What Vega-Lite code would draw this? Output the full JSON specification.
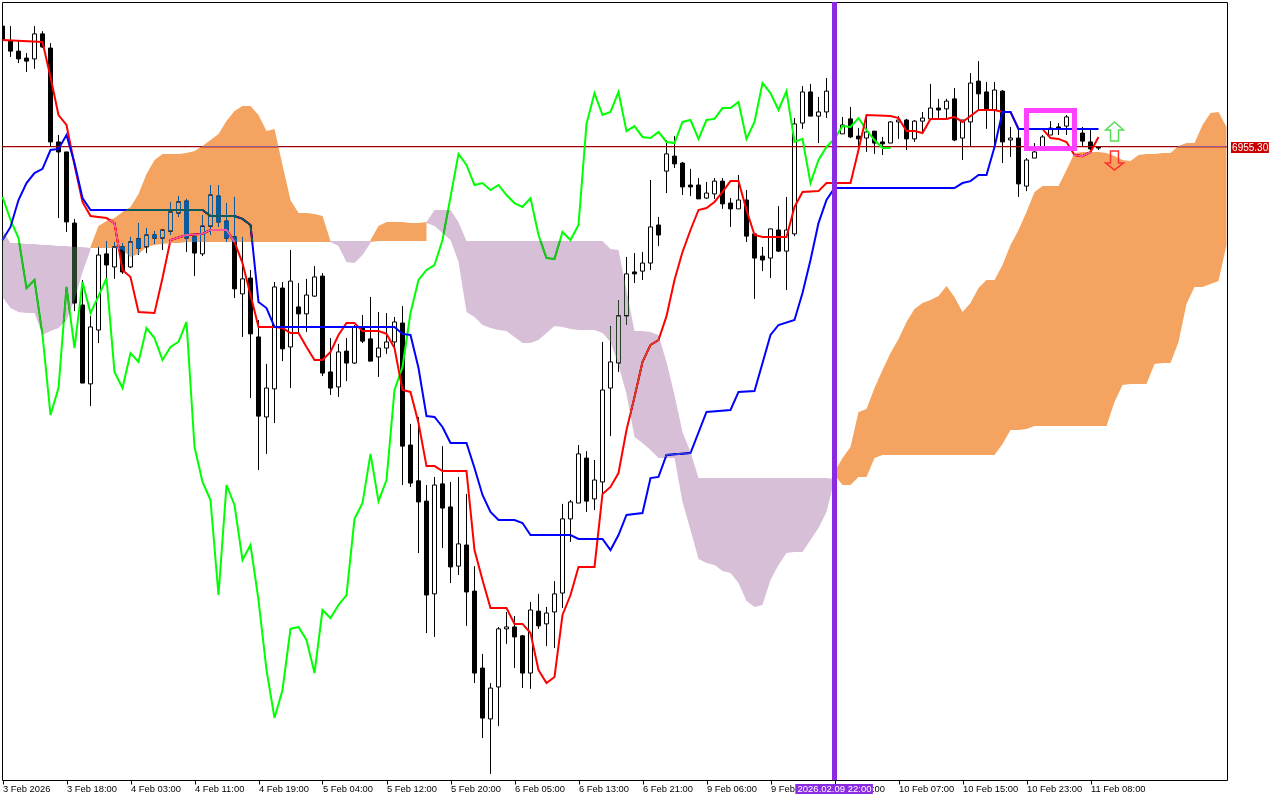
{
"$schema":"https://vega.github.io/schema/vega-lite/v6.json",
"width":1225,"height":778,
"autosize":"none",
"padding":{"left":2,"top":2,"right":53,"bottom":20},
"background":"white",
"config":{"view":{"stroke":"black"},"axis":{"title":null,"grid":false,"domain":false,"tickColor":"black","labelColor":"black","labelFont":"Liberation Sans","labelFontSize":10,"tickSize":4}},
"datasets":{
"candles":[
{"i":0,"h":6998.7,"l":6993.0,"o":6998.7,"c":6993.7},{"i":1,"h":6998.7,"l":6987.6,"o":6993.3,"c":6989.7},{"i":2,"h":6993.7,"l":6985.4,"o":6989.7,"c":6986.9},{"i":3,"h":6989.0,"l":6982.2,"o":6987.2,"c":6986.1},{"i":4,"h":6998.7,"l":6983.3,"o":6986.9,"c":6995.9},{"i":5,"h":6996.9,"l":6990.8,"o":6995.9,"c":6991.2},{"i":6,"h":6992.6,"l":6955.5,"o":6990.8,"c":6957.0},{"i":7,"h":6959.5,"l":6929.6,"o":6957.0,"c":6953.4},{"i":8,"h":6953.4,"l":6924.6,"o":6953.4,"c":6928.2},{"i":9,"h":6929.3,"l":6896.1,"o":6927.8,"c":6899.0},
{"i":10,"h":6907.3,"l":6870.2,"o":6898.3,"c":6870.2},{"i":11,"h":6894.3,"l":6861.9,"o":6869.9,"c":6890.4},{"i":12,"h":6919.2,"l":6884.6,"o":6889.3,"c":6916.3},{"i":13,"h":6921.3,"l":6908.0,"o":6916.7,"c":6912.7},{"i":14,"h":6921.0,"l":6907.7,"o":6912.0,"c":6919.2},{"i":15,"h":6920.6,"l":6909.5,"o":6919.2,"c":6910.2},{"i":16,"h":6922.8,"l":6911.6,"o":6912.0,"c":6921.0},{"i":17,"h":6927.8,"l":6916.3,"o":6922.1,"c":6918.8},{"i":18,"h":6926.0,"l":6917.0,"o":6919.2,"c":6923.5},{"i":19,"h":6924.9,"l":6920.3,"o":6923.5,"c":6922.4},
{"i":20,"h":6925.3,"l":6918.1,"o":6922.4,"c":6925.3},{"i":21,"h":6935.4,"l":6923.5,"o":6924.9,"c":6931.8},{"i":22,"h":6937.5,"l":6930.0,"o":6931.4,"c":6935.4},{"i":23,"h":6936.5,"l":6917.4,"o":6935.7,"c":6922.4},{"i":24,"h":6924.2,"l":6908.7,"o":6922.8,"c":6917.0},{"i":25,"h":6930.7,"l":6915.9,"o":6916.7,"c":6926.7},{"i":26,"h":6941.5,"l":6923.5,"o":6926.7,"c":6937.9},{"i":27,"h":6941.5,"l":6926.4,"o":6937.5,"c":6928.2},{"i":28,"h":6935.0,"l":6921.0,"o":6928.5,"c":6922.4},{"i":29,"h":6937.2,"l":6900.8,"o":6922.8,"c":6904.1},
{"i":30,"h":6922.8,"l":6886.8,"o":6902.3,"c":6907.7},{"i":31,"h":6910.9,"l":6864.8,"o":6908.0,"c":6887.9},{"i":32,"h":6892.9,"l":6838.9,"o":6886.8,"c":6858.3},{"i":33,"h":6877.1,"l":6844.7,"o":6858.0,"c":6868.4},{"i":34,"h":6906.6,"l":6855.8,"o":6868.1,"c":6904.8},{"i":35,"h":6906.6,"l":6878.1,"o":6904.4,"c":6882.5},{"i":36,"h":6918.1,"l":6868.4,"o":6883.2,"c":6906.9},{"i":37,"h":6906.2,"l":6888.2,"o":6897.6,"c":6895.1},{"i":38,"h":6907.7,"l":6888.6,"o":6895.1,"c":6901.9},{"i":39,"h":6912.3,"l":6901.2,"o":6901.5,"c":6908.4},
{"i":40,"h":6909.8,"l":6872.7,"o":6908.7,"c":6873.8},{"i":41,"h":6886.4,"l":6865.9,"o":6874.2,"c":6868.4},{"i":42,"h":6884.3,"l":6865.2,"o":6868.8,"c":6881.4},{"i":43,"h":6886.4,"l":6870.9,"o":6881.7,"c":6877.4},{"i":44,"h":6891.1,"l":6877.1,"o":6877.4,"c":6890.4},{"i":45,"h":6894.7,"l":6884.6,"o":6890.0,"c":6885.3},{"i":46,"h":6901.2,"l":6878.1,"o":6886.1,"c":6878.1},{"i":47,"h":6895.8,"l":6872.4,"o":6879.6,"c":6882.8},{"i":48,"h":6895.4,"l":6880.7,"o":6882.8,"c":6885.0},{"i":49,"h":6894.0,"l":6882.8,"o":6885.0,"c":6892.2},
{"i":50,"h":6897.9,"l":6833.5,"o":6891.8,"c":6847.5},{"i":51,"h":6855.5,"l":6832.8,"o":6847.9,"c":6834.2},{"i":52,"h":6858.0,"l":6809.0,"o":6835.0,"c":6827.4},{"i":53,"h":6833.5,"l":6780.2,"o":6827.7,"c":6793.9},{"i":54,"h":6836.4,"l":6778.8,"o":6794.3,"c":6833.5},{"i":55,"h":6847.5,"l":6810.8,"o":6833.9,"c":6825.2},{"i":56,"h":6834.6,"l":6798.2,"o":6825.6,"c":6804.0},{"i":57,"h":6836.4,"l":6801.1,"o":6804.3,"c":6812.3},{"i":58,"h":6830.3,"l":6782.8,"o":6811.9,"c":6795.0},{"i":59,"h":6804.3,"l":6762.2,"o":6795.3,"c":6765.8},
{"i":60,"h":6772.7,"l":6742.4,"o":6767.6,"c":6749.6},{"i":61,"h":6762.2,"l":6729.5,"o":6749.3,"c":6760.4},{"i":62,"h":6782.4,"l":6746.7,"o":6760.8,"c":6781.7},{"i":63,"h":6787.8,"l":6776.3,"o":6781.7,"c":6782.4},{"i":64,"h":6786.3,"l":6767.6,"o":6782.4,"c":6778.8},{"i":65,"h":6779.5,"l":6760.4,"o":6779.2,"c":6765.8},{"i":66,"h":6791.4,"l":6760.1,"o":6765.8,"c":6788.5},{"i":67,"h":6794.3,"l":6781.7,"o":6788.1,"c":6782.8},{"i":68,"h":6789.6,"l":6775.5,"o":6783.5,"c":6787.4},{"i":69,"h":6798.9,"l":6774.8,"o":6787.8,"c":6794.3},
{"i":70,"h":6826.7,"l":6789.2,"o":6794.6,"c":6821.3},{"i":71,"h":6828.1,"l":6813.0,"o":6821.3,"c":6827.4},{"i":72,"h":6847.9,"l":6827.0,"o":6827.0,"c":6844.7},{"i":73,"h":6845.7,"l":6823.8,"o":6843.2,"c":6827.7},{"i":74,"h":6842.5,"l":6824.5,"o":6828.5,"c":6835.3},{"i":75,"h":6885.0,"l":6829.9,"o":6834.6,"c":6867.7},{"i":76,"h":6890.7,"l":6851.1,"o":6868.4,"c":6877.8},{"i":77,"h":6900.1,"l":6874.2,"o":6877.4,"c":6894.4},{"i":78,"h":6915.6,"l":6891.1,"o":6894.4,"c":6909.5},{"i":79,"h":6917.0,"l":6906.2,"o":6910.2,"c":6909.5},
{"i":80,"h":6917.4,"l":6907.3,"o":6910.5,"c":6913.4},{"i":81,"h":6943.3,"l":6910.9,"o":6913.4,"c":6926.4},{"i":82,"h":6930.0,"l":6919.5,"o":6927.1,"c":6923.5},{"i":83,"h":6957.7,"l":6938.6,"o":6946.5,"c":6952.7},{"i":84,"h":6959.1,"l":6947.6,"o":6951.9,"c":6949.1},{"i":85,"h":6949.8,"l":6937.9,"o":6949.4,"c":6940.8},{"i":86,"h":6947.3,"l":6937.5,"o":6941.5,"c":6940.8},{"i":87,"h":6944.0,"l":6936.5,"o":6941.5,"c":6936.5},{"i":88,"h":6942.6,"l":6936.5,"o":6936.8,"c":6938.6},{"i":89,"h":6944.0,"l":6936.5,"o":6938.3,"c":6942.9},
{"i":90,"h":6944.0,"l":6932.9,"o":6942.9,"c":6934.7},{"i":91,"h":6936.8,"l":6926.4,"o":6935.0,"c":6932.9},{"i":92,"h":6945.1,"l":6932.9,"o":6932.9,"c":6936.1},{"i":93,"h":6939.7,"l":6921.0,"o":6936.1,"c":6923.1},{"i":94,"h":6924.2,"l":6900.5,"o":6923.9,"c":6915.2},{"i":95,"h":6919.2,"l":6910.5,"o":6915.9,"c":6914.5},{"i":96,"h":6925.7,"l":6908.0,"o":6915.2,"c":6925.7},{"i":97,"h":6933.9,"l":6917.4,"o":6925.3,"c":6917.7},{"i":98,"h":6937.2,"l":6903.7,"o":6917.7,"c":6925.3},{"i":99,"h":6965.6,"l":6923.1,"o":6923.9,"c":6963.5},
{"i":100,"h":6977.1,"l":6961.7,"o":6963.8,"c":6975.0},{"i":101,"h":6977.9,"l":6966.3,"o":6975.0,"c":6966.3},{"i":102,"h":6973.2,"l":6956.6,"o":6966.3,"c":6967.8},{"i":103,"h":6980.0,"l":6965.6,"o":6967.8,"c":6975.3},{"i":104,"h":6976.4,"l":6964.2,"o":6975.3,"c":6965.6},{"i":105,"h":6966.0,"l":6959.9,"o":6959.9,"c":6963.1},{"i":106,"h":6969.6,"l":6958.4,"o":6965.3,"c":6958.8},{"i":107,"h":6962.0,"l":6954.1,"o":6959.1,"c":6958.1},{"i":108,"h":6966.0,"l":6953.4,"o":6958.4,"c":6960.6},{"i":109,"h":6960.9,"l":6952.7,"o":6960.9,"c":6956.6},
{"i":110,"h":6958.8,"l":6952.3,"o":6957.0,"c":6956.3},{"i":111,"h":6964.5,"l":6956.6,"o":6956.6,"c":6964.2},{"i":112,"h":6966.3,"l":6958.1,"o":6964.2,"c":6964.9},{"i":113,"h":6965.3,"l":6954.1,"o":6964.9,"c":6958.1},{"i":114,"h":6964.9,"l":6957.0,"o":6958.1,"c":6964.5},{"i":115,"h":6967.8,"l":6960.2,"o":6964.5,"c":6965.6},{"i":116,"h":6977.9,"l":6965.3,"o":6965.3,"c":6969.2},{"i":117,"h":6972.5,"l":6965.3,"o":6969.2,"c":6968.5},{"i":118,"h":6972.5,"l":6964.9,"o":6968.9,"c":6971.7},{"i":119,"h":6976.4,"l":6957.3,"o":6972.5,"c":6957.7},
{"i":120,"h":6964.9,"l":6950.5,"o":6958.4,"c":6964.9},{"i":121,"h":6981.8,"l":6955.2,"o":6964.2,"c":6978.2},{"i":122,"h":6986.1,"l":6968.5,"o":6978.9,"c":6974.3},{"i":123,"h":6978.6,"l":6961.7,"o":6975.0,"c":6968.9},{"i":124,"h":6978.6,"l":6955.2,"o":6968.5,"c":6975.7},{"i":125,"h":6975.7,"l":6949.4,"o":6975.3,"c":6957.0},{"i":126,"h":6962.4,"l":6951.6,"o":6957.7,"c":6958.4},{"i":127,"h":6961.3,"l":6937.2,"o":6958.4,"c":6941.9},{"i":128,"h":6951.2,"l":6939.3,"o":6941.1,"c":6950.5},{"i":129,"h":6956.6,"l":6951.2,"o":6951.2,"c":6953.4},
{"i":130,"h":6959.5,"l":6955.2,"o":6955.2,"c":6958.8},{"i":131,"h":6964.5,"l":6959.5,"o":6959.5,"c":6962.0},{"i":132,"h":6963.8,"l":6959.5,"o":6962.4,"c":6961.7},{"i":133,"h":6966.7,"l":6959.5,"o":6962.7,"c":6966.0},{"i":134,"h":6964.9,"l":6961.3,"o":6962.4,"c":6963.1},{"i":135,"h":6962.4,"l":6955.2,"o":6960.2,"c":6957.3},{"i":136,"h":6962.0,"l":6954.1,"o":6957.0,"c":6954.5},{"i":137,"h":6955.5,"l":6954.1,"o":6955.2,"c":6954.8}
],
"chikou":[
{"i":0,"p":6937.2},{"i":1,"p":6928.9},{"i":2,"p":6922.4},{"i":3,"p":6904.4},{"i":4,"p":6907.3},{"i":5,"p":6887.5},{"i":6,"p":6858.7},{"i":7,"p":6868.4},{"i":8,"p":6904.8},{"i":9,"p":6882.8},{"i":10,"p":6906.6},{"i":11,"p":6895.4},{"i":12,"p":6901.5},{"i":13,"p":6908.0},{"i":14,"p":6874.2},{"i":15,"p":6868.4},{"i":16,"p":6881.0},{"i":17,"p":6877.8},{"i":18,"p":6890.0},{"i":19,"p":6886.4},{"i":20,"p":6878.5},{"i":21,"p":6883.2},{"i":22,"p":6885.0},{"i":23,"p":6892.2},{"i":24,"p":6847.2},{"i":25,"p":6834.6},{"i":26,"p":6828.1},{"i":27,"p":6793.9},{"i":28,"p":6833.5},{"i":29,"p":6826.3},{"i":30,"p":6806.5},{"i":31,"p":6811.9},{"i":32,"p":6792.1},{"i":33,"p":6766.9},{"i":34,"p":6749.6},{"i":35,"p":6759.7},{"i":36,"p":6781.7},{"i":37,"p":6782.4},{"i":38,"p":6777.7},{"i":39,"p":6765.8},{"i":40,"p":6788.5},{"i":41,"p":6785.6},{"i":42,"p":6790.3},{"i":43,"p":6793.9},{"i":44,"p":6821.3},{"i":45,"p":6827.0},{"i":46,"p":6844.7},{"i":47,"p":6827.7},{"i":48,"p":6835.3},{"i":49,"p":6867.7},{"i":50,"p":6876.0},{"i":51,"p":6895.4},{"i":52,"p":6907.3},{"i":53,"p":6910.9},{"i":54,"p":6912.7},{"i":55,"p":6921.7},{"i":56,"p":6937.2},{"i":57,"p":6952.7},{"i":58,"p":6948.7},{"i":59,"p":6941.5},{"i":60,"p":6942.2},{"i":61,"p":6939.7},{"i":62,"p":6941.5},{"i":63,"p":6937.9},{"i":64,"p":6935.0},{"i":65,"p":6933.6},{"i":66,"p":6936.8},{"i":67,"p":6923.5},{"i":68,"p":6915.2},{"i":69,"p":6914.9},{"i":70,"p":6924.6},{"i":71,"p":6921.7},{"i":72,"p":6927.1},{"i":73,"p":6963.5},{"i":74,"p":6974.6},{"i":75,"p":6966.7},{"i":76,"p":6967.8},{"i":77,"p":6975.0},{"i":78,"p":6960.9},{"i":79,"p":6962.7},{"i":80,"p":6958.8},{"i":81,"p":6958.4},{"i":82,"p":6960.6},{"i":83,"p":6957.0},{"i":84,"p":6956.6},{"i":85,"p":6964.2},{"i":86,"p":6964.9},{"i":87,"p":6958.1},{"i":88,"p":6964.9},{"i":89,"p":6965.3},{"i":90,"p":6969.2},{"i":91,"p":6969.2},{"i":92,"p":6971.4},{"i":93,"p":6958.1},{"i":94,"p":6964.2},{"i":95,"p":6978.2},{"i":96,"p":6974.6},{"i":97,"p":6968.5},{"i":98,"p":6975.3},{"i":99,"p":6957.0},{"i":100,"p":6958.1},{"i":101,"p":6942.2},{"i":102,"p":6950.5},{"i":103,"p":6955.2},{"i":104,"p":6958.1},{"i":105,"p":6962.7},{"i":106,"p":6962.4},{"i":107,"p":6965.6},{"i":108,"p":6961.3},{"i":109,"p":6957.7},{"i":110,"p":6954.8},{"i":111,"p":6954.8}
],
"tenkan":[
{"i":0,"p":6993.7},{"i":5,"p":6993.0},{"i":6,"p":6980.4},{"i":7,"p":6966.7},{"i":8,"p":6963.1},{"i":9,"p":6948.7},{"i":10,"p":6935.4},{"i":11,"p":6930.3},{"i":13,"p":6929.6},{"i":14,"p":6927.8},{"i":15,"p":6910.9},{"i":16,"p":6908.4},{"i":17,"p":6895.8},{"i":19,"p":6895.4},{"i":20,"p":6908.0},{"i":21,"p":6921.7},{"i":23,"p":6923.5},{"i":25,"p":6923.9},{"i":26,"p":6925.3},{"i":28,"p":6925.3},{"i":29,"p":6921.0},{"i":30,"p":6913.4},{"i":31,"p":6901.9},{"i":32,"p":6890.4},{"i":34,"p":6890.4},{"i":35,"p":6890.0},{"i":36,"p":6888.2},{"i":37,"p":6888.2},{"i":38,"p":6883.2},{"i":39,"p":6878.5},{"i":40,"p":6878.5},{"i":41,"p":6881.4},{"i":42,"p":6887.5},{"i":43,"p":6891.8},{"i":44,"p":6891.8},{"i":45,"p":6888.9},{"i":47,"p":6888.9},{"i":48,"p":6887.9},{"i":49,"p":6882.8},{"i":50,"p":6867.7},{"i":51,"p":6867.0},{"i":52,"p":6855.8},{"i":53,"p":6840.3},{"i":54,"p":6840.3},{"i":55,"p":6838.5},{"i":58,"p":6838.5},{"i":59,"p":6810.1},{"i":60,"p":6799.3},{"i":61,"p":6789.2},{"i":63,"p":6789.2},{"i":64,"p":6783.5},{"i":65,"p":6783.5},{"i":66,"p":6780.2},{"i":67,"p":6766.9},{"i":68,"p":6762.2},{"i":69,"p":6764.4},{"i":70,"p":6786.7},{"i":71,"p":6793.9},{"i":72,"p":6804.0},{"i":74,"p":6804.0},{"i":75,"p":6830.3},{"i":76,"p":6832.8},{"i":77,"p":6837.8},{"i":78,"p":6853.3},{"i":79,"p":6865.2},{"i":80,"p":6877.8},{"i":81,"p":6883.9},{"i":82,"p":6885.7},{"i":83,"p":6894.3},{"i":84,"p":6907.3},{"i":85,"p":6917.4},{"i":86,"p":6925.3},{"i":87,"p":6932.5},{"i":88,"p":6933.2},{"i":89,"p":6935.4},{"i":90,"p":6939.0},{"i":91,"p":6942.9},{"i":92,"p":6942.9},{"i":93,"p":6932.5},{"i":94,"p":6923.5},{"i":95,"p":6922.8},{"i":98,"p":6922.8},{"i":99,"p":6933.6},{"i":100,"p":6939.0},{"i":102,"p":6939.3},{"i":103,"p":6942.2},{"i":106,"p":6942.2},{"i":107,"p":6954.1},{"i":108,"p":6966.7},{"i":111,"p":6966.3},{"i":112,"p":6965.6},{"i":113,"p":6960.9},{"i":114,"p":6960.9},{"i":115,"p":6960.2},{"i":116,"p":6965.3},{"i":118,"p":6965.3},{"i":119,"p":6966.0},{"i":120,"p":6964.2},{"i":122,"p":6968.5},{"i":124,"p":6968.5},{"i":125,"p":6967.8},{"i":126,"p":6967.8},{"i":127,"p":6961.7},{"i":130,"p":6961.7},{"i":131,"p":6958.4},{"i":132,"p":6958.1},{"i":133,"p":6957.0},{"i":134,"p":6952.3},{"i":135,"p":6951.9},{"i":136,"p":6953.4},{"i":137,"p":6958.8}
],
"kijun":[
{"i":0,"p":6921.7},{"i":1,"p":6926.4},{"i":2,"p":6936.1},{"i":3,"p":6942.2},{"i":4,"p":6945.8},{"i":5,"p":6947.3},{"i":6,"p":6954.1},{"i":7,"p":6954.5},{"i":8,"p":6959.5},{"i":9,"p":6949.4},{"i":10,"p":6936.8},{"i":11,"p":6932.5},{"i":25,"p":6932.5},{"i":26,"p":6930.3},{"i":29,"p":6930.3},{"i":30,"p":6929.3},{"i":31,"p":6927.1},{"i":32,"p":6899.4},{"i":33,"p":6897.2},{"i":34,"p":6890.4},{"i":49,"p":6890.4},{"i":50,"p":6887.9},{"i":51,"p":6887.5},{"i":52,"p":6875.6},{"i":53,"p":6858.3},{"i":54,"p":6858.0},{"i":55,"p":6854.4},{"i":56,"p":6848.6},{"i":58,"p":6848.6},{"i":59,"p":6839.6},{"i":60,"p":6829.9},{"i":61,"p":6823.8},{"i":62,"p":6820.9},{"i":64,"p":6820.9},{"i":65,"p":6819.8},{"i":66,"p":6815.5},{"i":71,"p":6815.5},{"i":72,"p":6814.1},{"i":75,"p":6814.1},{"i":76,"p":6810.1},{"i":77,"p":6815.5},{"i":78,"p":6822.7},{"i":80,"p":6823.4},{"i":81,"p":6836.0},{"i":82,"p":6836.4},{"i":83,"p":6844.3},{"i":86,"p":6845.0},{"i":88,"p":6859.8},{"i":91,"p":6860.5},{"i":92,"p":6867.0},{"i":94,"p":6867.3},{"i":96,"p":6887.5},{"i":97,"p":6891.1},{"i":99,"p":6892.9},{"i":100,"p":6902.6},{"i":101,"p":6914.5},{"i":102,"p":6927.8},{"i":103,"p":6936.1},{"i":104,"p":6940.4},{"i":119,"p":6940.4},{"i":120,"p":6942.2},{"i":121,"p":6942.9},{"i":122,"p":6945.1},{"i":123,"p":6945.1},{"i":124,"p":6955.2},{"i":125,"p":6967.8},{"i":126,"p":6967.8},{"i":127,"p":6961.7},{"i":137,"p":6961.7}
],
"kumo":[
{"i":0,"seg":"A","hi":6925.3,"lo":6901.2},{"i":1,"seg":"A","hi":6920.6,"lo":6897.2},{"i":2,"seg":"A","hi":6920.6,"lo":6895.8},{"i":3,"seg":"A","hi":6920.3,"lo":6895.4},{"i":4,"seg":"A","hi":6920.3,"lo":6895.4},{"i":5,"seg":"A","hi":6919.9,"lo":6887.5},{"i":6,"seg":"A","hi":6919.9,"lo":6888.9},{"i":7,"seg":"A","hi":6919.5,"lo":6890.0},{"i":8,"seg":"A","hi":6919.5,"lo":6892.9},{"i":9,"seg":"A","hi":6919.2,"lo":6900.1},{"i":10,"seg":"A","hi":6919.2,"lo":6910.2},{"i":11,"seg":"A","hi":6918.8,"lo":6918.1},
{"i":11,"seg":"B","hi":6919.2,"lo":6918.8},{"i":12,"seg":"B","hi":6926.7,"lo":6918.8},{"i":13,"seg":"B","hi":6928.5,"lo":6918.8},{"i":14,"seg":"B","hi":6929.6,"lo":6918.8},{"i":15,"seg":"B","hi":6931.8,"lo":6918.1},{"i":16,"seg":"B","hi":6933.6,"lo":6915.6},{"i":17,"seg":"B","hi":6938.3,"lo":6916.7},{"i":18,"seg":"B","hi":6945.5,"lo":6919.2},{"i":19,"seg":"B","hi":6950.5,"lo":6919.9},{"i":20,"seg":"B","hi":6952.7,"lo":6920.3},{"i":21,"seg":"B","hi":6952.7,"lo":6920.6},{"i":22,"seg":"B","hi":6952.7,"lo":6920.6},{"i":23,"seg":"B","hi":6953.0,"lo":6921.0},{"i":24,"seg":"B","hi":6953.7,"lo":6921.0},{"i":25,"seg":"B","hi":6955.5,"lo":6921.0},{"i":26,"seg":"B","hi":6957.7,"lo":6921.0},{"i":27,"seg":"B","hi":6959.9,"lo":6921.0},{"i":28,"seg":"B","hi":6964.5,"lo":6921.0},{"i":29,"seg":"B","hi":6968.1,"lo":6921.0},{"i":30,"seg":"B","hi":6969.9,"lo":6921.0},{"i":31,"seg":"B","hi":6969.9,"lo":6921.0},{"i":32,"seg":"B","hi":6966.7,"lo":6921.0},{"i":33,"seg":"B","hi":6960.9,"lo":6921.0},{"i":34,"seg":"B","hi":6961.7,"lo":6921.0},{"i":35,"seg":"B","hi":6948.7,"lo":6921.0},{"i":36,"seg":"B","hi":6936.1,"lo":6921.0},{"i":37,"seg":"B","hi":6931.4,"lo":6921.0},{"i":38,"seg":"B","hi":6931.4,"lo":6921.0},{"i":39,"seg":"B","hi":6931.1,"lo":6921.0},{"i":40,"seg":"B","hi":6930.3,"lo":6921.0},{"i":41,"seg":"B","hi":6921.3,"lo":6921.0},
{"i":41,"seg":"C","hi":6921.3,"lo":6921.0},{"i":42,"seg":"C","hi":6921.3,"lo":6919.5},{"i":43,"seg":"C","hi":6921.3,"lo":6913.8},{"i":44,"seg":"C","hi":6921.3,"lo":6913.4},{"i":45,"seg":"C","hi":6921.3,"lo":6916.3},{"i":46,"seg":"C","hi":6921.3,"lo":6920.6},
{"i":46,"seg":"D","hi":6921.7,"lo":6921.0},{"i":47,"seg":"D","hi":6926.7,"lo":6921.3},{"i":48,"seg":"D","hi":6928.2,"lo":6921.3},{"i":49,"seg":"D","hi":6928.2,"lo":6921.3},{"i":50,"seg":"D","hi":6928.2,"lo":6921.3},{"i":51,"seg":"D","hi":6927.8,"lo":6921.3},{"i":52,"seg":"D","hi":6927.8,"lo":6921.3},{"i":53,"seg":"D","hi":6928.2,"lo":6921.3},
{"i":53,"seg":"E","hi":6928.2,"lo":6927.8},{"i":54,"seg":"E","hi":6932.5,"lo":6926.7},{"i":55,"seg":"E","hi":6932.5,"lo":6924.2},{"i":56,"seg":"E","hi":6932.5,"lo":6921.7},{"i":57,"seg":"E","hi":6928.2,"lo":6913.8},{"i":58,"seg":"E","hi":6921.3,"lo":6895.8},{"i":59,"seg":"E","hi":6921.3,"lo":6894.0},{"i":60,"seg":"E","hi":6921.3,"lo":6891.1},{"i":61,"seg":"E","hi":6921.3,"lo":6890.0},{"i":62,"seg":"E","hi":6921.3,"lo":6889.3},{"i":63,"seg":"E","hi":6921.3,"lo":6888.9},{"i":64,"seg":"E","hi":6921.3,"lo":6886.8},{"i":65,"seg":"E","hi":6921.3,"lo":6884.6},{"i":66,"seg":"E","hi":6921.3,"lo":6884.6},{"i":67,"seg":"E","hi":6921.3,"lo":6885.7},{"i":68,"seg":"E","hi":6921.3,"lo":6888.2},{"i":69,"seg":"E","hi":6921.3,"lo":6890.7},{"i":70,"seg":"E","hi":6921.3,"lo":6890.4},{"i":71,"seg":"E","hi":6921.3,"lo":6889.7},{"i":72,"seg":"E","hi":6921.3,"lo":6889.3},{"i":73,"seg":"E","hi":6921.3,"lo":6889.3},{"i":74,"seg":"E","hi":6921.3,"lo":6889.3},{"i":75,"seg":"E","hi":6921.3,"lo":6888.2},{"i":76,"seg":"E","hi":6918.5,"lo":6885.0},{"i":77,"seg":"E","hi":6918.1,"lo":6876.7},{"i":78,"seg":"E","hi":6903.7,"lo":6866.3},{"i":79,"seg":"E","hi":6888.9,"lo":6850.8},{"i":80,"seg":"E","hi":6888.9,"lo":6848.6},{"i":81,"seg":"E","hi":6888.6,"lo":6846.1},{"i":82,"seg":"E","hi":6887.5,"lo":6843.2},{"i":83,"seg":"E","hi":6877.8,"lo":6843.2},{"i":84,"seg":"E","hi":6865.9,"lo":6843.2},{"i":85,"seg":"E","hi":6852.6,"lo":6827.4},{"i":86,"seg":"E","hi":6845.4,"lo":6817.3},{"i":87,"seg":"E","hi":6836.0,"lo":6806.9},{"i":88,"seg":"E","hi":6836.0,"lo":6805.4},{"i":89,"seg":"E","hi":6836.0,"lo":6804.7},{"i":90,"seg":"E","hi":6836.0,"lo":6802.5},{"i":91,"seg":"E","hi":6836.0,"lo":6801.8},{"i":92,"seg":"E","hi":6836.0,"lo":6798.2},{"i":93,"seg":"E","hi":6836.0,"lo":6791.7},{"i":94,"seg":"E","hi":6836.0,"lo":6789.6},{"i":95,"seg":"E","hi":6836.0,"lo":6790.3},{"i":96,"seg":"E","hi":6836.0,"lo":6799.3},{"i":97,"seg":"E","hi":6836.0,"lo":6804.7},{"i":98,"seg":"E","hi":6836.0,"lo":6809.0},{"i":99,"seg":"E","hi":6836.0,"lo":6809.4},{"i":100,"seg":"E","hi":6836.0,"lo":6809.4},{"i":101,"seg":"E","hi":6836.0,"lo":6813.7},{"i":102,"seg":"E","hi":6836.0,"lo":6818.0},{"i":103,"seg":"E","hi":6836.0,"lo":6823.8},{"i":104,"seg":"E","hi":6835.7,"lo":6835.3},
{"i":104,"seg":"F","hi":6838.2,"lo":6837.1},{"i":105,"seg":"F","hi":6843.2,"lo":6833.5},{"i":106,"seg":"F","hi":6847.2,"lo":6833.5},{"i":107,"seg":"F","hi":6859.8,"lo":6836.4},{"i":108,"seg":"F","hi":6860.9,"lo":6836.4},{"i":109,"seg":"F","hi":6868.4,"lo":6843.2},{"i":110,"seg":"F","hi":6874.9,"lo":6844.3},{"i":111,"seg":"F","hi":6881.0,"lo":6844.3},{"i":112,"seg":"F","hi":6886.1,"lo":6844.3},{"i":113,"seg":"F","hi":6892.2,"lo":6844.3},{"i":114,"seg":"F","hi":6896.9,"lo":6844.3},{"i":115,"seg":"F","hi":6899.0,"lo":6844.3},{"i":116,"seg":"F","hi":6900.1,"lo":6844.3},{"i":117,"seg":"F","hi":6901.5,"lo":6844.3},{"i":118,"seg":"F","hi":6905.1,"lo":6844.3},{"i":119,"seg":"F","hi":6901.2,"lo":6844.3},{"i":120,"seg":"F","hi":6895.8,"lo":6844.3},{"i":121,"seg":"F","hi":6899.0,"lo":6844.3},{"i":122,"seg":"F","hi":6904.4,"lo":6844.3},{"i":123,"seg":"F","hi":6907.3,"lo":6844.3},{"i":124,"seg":"F","hi":6907.3,"lo":6844.3},{"i":125,"seg":"F","hi":6912.7,"lo":6848.3},{"i":126,"seg":"F","hi":6919.9,"lo":6853.3},{"i":127,"seg":"F","hi":6925.3,"lo":6853.3},{"i":128,"seg":"F","hi":6931.8,"lo":6853.7},{"i":129,"seg":"F","hi":6939.0,"lo":6854.7},{"i":130,"seg":"F","hi":6941.1,"lo":6854.7},{"i":131,"seg":"F","hi":6941.1,"lo":6854.7},{"i":132,"seg":"F","hi":6941.1,"lo":6854.7},{"i":133,"seg":"F","hi":6946.9,"lo":6854.7},{"i":134,"seg":"F","hi":6953.0,"lo":6854.7},{"i":135,"seg":"F","hi":6953.4,"lo":6854.7},{"i":136,"seg":"F","hi":6953.4,"lo":6854.7},{"i":137,"seg":"F","hi":6953.4,"lo":6854.7},{"i":138,"seg":"F","hi":6953.0,"lo":6854.7},{"i":139,"seg":"F","hi":6951.9,"lo":6863.4},{"i":140,"seg":"F","hi":6950.5,"lo":6869.5},{"i":141,"seg":"F","hi":6950.1,"lo":6869.9},{"i":142,"seg":"F","hi":6952.3,"lo":6869.9},{"i":143,"seg":"F","hi":6952.7,"lo":6869.9},{"i":144,"seg":"F","hi":6952.7,"lo":6877.1},{"i":145,"seg":"F","hi":6953.0,"lo":6877.4},{"i":146,"seg":"F","hi":6953.0,"lo":6877.4},{"i":147,"seg":"F","hi":6955.5,"lo":6885.0},{"i":148,"seg":"F","hi":6956.6,"lo":6898.7},{"i":149,"seg":"F","hi":6956.6,"lo":6904.8},{"i":150,"seg":"F","hi":6963.1,"lo":6904.8},{"i":151,"seg":"F","hi":6967.4,"lo":6905.9},{"i":152,"seg":"F","hi":6967.8,"lo":6906.9},{"i":153,"seg":"F","hi":6962.4,"lo":6919.9}
]
},
"encoding":{
"x":{"field":"i","type":"quantitative","scale":{"domain":[-0.0625,153.0625],"nice":false,"zero":false,"padding":0},
"axis":{"orient":"bottom","values":[0,8,16,24,32,40,48,56,64,72,80,88,96,104,112,120,128,136],"labelExpr":"['3 Feb 2026','3 Feb 18:00','4 Feb 03:00','4 Feb 11:00','4 Feb 19:00','5 Feb 04:00','5 Feb 12:00','5 Feb 20:00','6 Feb 05:00','6 Feb 13:00','6 Feb 21:00','9 Feb 06:00','9 Feb 14:00','9 Feb 22:00','10 Feb 07:00','10 Feb 15:00','10 Feb 23:00','11 Feb 08:00'][datum.value/8]","labelAlign":"left","labelOffset":0,"labelPadding":0,"labelFontSize":9.4,"labelBaseline":"top","labelOverlap":false,"labelFlush":false,"labelBound":false}},
"y":{"field":"p","type":"quantitative","scale":{"domain":[6727.3,7007.38],"nice":false,"zero":false},
"axis":{"orient":"right","values":[7004.5,6992.95,6981.4,6969.85,6958.3,6946.75,6935.2,6923.65,6912.1,6900.55,6889,6877.45,6865.9,6854.35,6842.8,6831.25,6819.7,6808.15,6796.6,6785.05,6773.5,6761.95,6750.4,6738.85],"format":".2f","labelPadding":1,"labelOverlap":false,"labelBound":false,"labelFlush":false}}
},
"layer":[
{"data":{"name":"candles"},"mark":{"type":"rule","color":"black","strokeWidth":1,"clip":true},
 "encoding":{"y":{"field":"h","type":"quantitative","scale":{"domain":[6727.3,7007.38],"nice":false,"zero":false},"axis":null},"y2":{"field":"l"}}},
{"data":{"name":"candles"},"mark":{"type":"bar","size":4,"stroke":"black","strokeWidth":1,"clip":true},
 "encoding":{"y":{"field":"o","type":"quantitative","scale":{"domain":[6727.3,7007.38],"nice":false,"zero":false},"axis":null},"y2":{"field":"c"},
 "fill":{"condition":{"test":"datum.c>datum.o","value":"white"},"value":"black"}}},
{"data":{"values":[{"i":-0.0625,"i2":153.0625,"p":6955.3}]},"mark":{"type":"rule","color":"#a00000","strokeWidth":1.3},"encoding":{"x2":{"field":"i2"}}},
{"data":{"name":"chikou"},"mark":{"type":"line","color":"#00ff00","strokeWidth":2}},
{"data":{"name":"tenkan"},"mark":{"type":"line","color":"#ff0000","strokeWidth":2}},
{"data":{"name":"kijun"},"mark":{"type":"line","color":"#0000ff","strokeWidth":2}},
{"data":{"name":"kumo"},"mark":{"type":"area","blend":"difference"},
 "encoding":{"y":{"field":"hi","type":"quantitative","stack":null,"scale":{"domain":[6727.3,7007.38],"nice":false,"zero":false},"axis":null},"y2":{"field":"lo"},"detail":{"field":"seg"},
 "fill":{"field":"seg","type":"nominal","legend":null,"scale":{"domain":["A","B","C","D","E","F"],"range":["#274027","#0b5b9f","#274027","#0b5b9f","#274027","#0b5b9f"]}}}},
{"data":{"values":[{"i":104}]},"mark":{"type":"rule","color":"#8a2be2","strokeWidth":5},"encoding":{"y":null}},
{"data":{"values":[{"i":128,"i2":134,"p":6968.3,"p2":6954.6}]},"mark":{"type":"rect","filled":false,"stroke":"#ff40ff","strokeWidth":5},"encoding":{"x2":{"field":"i2"},"y2":{"field":"p2"}}},
{"data":{"values":[{"i":139,"p":6960.8}]},"mark":{"type":"point","shape":"M-0.42,1L-0.42,-0.15L-0.94,-0.15L0,-1L0.94,-0.15L0.42,-0.15L0.42,1Z","size":361,"filled":false,"stroke":"#55dd55","strokeWidth":1.5,"opacity":1}},
{"data":{"values":[{"i":139,"p":6950.3}]},"mark":{"type":"point","shape":"M-0.42,-1L-0.42,0.25L-0.94,0.25L0,1L0.94,0.25L0.42,0.25L0.42,-1Z","size":361,"filled":false,"stroke":"#ff3030","strokeWidth":1.5,"opacity":1}},
{"data":{"values":[{"i":153.56,"i2":158.3,"p":6957.0,"p2":6953.0}]},"mark":{"type":"rect","fill":"#c80000"},"encoding":{"x2":{"field":"i2"},"y2":{"field":"p2"}}},
{"data":{"values":[{"i":153.7,"p":6955.0,"t":"6955.30"}]},"mark":{"type":"text","align":"left","baseline":"middle","color":"white","font":"Liberation Sans","fontSize":10},"encoding":{"text":{"field":"t"}}},
{"data":{"values":[{"i":99.1,"i2":108.8,"p":6725.9,"p2":6722.3}]},"mark":{"type":"rect","fill":"#8a2be2"},"encoding":{"x2":{"field":"i2"},"y2":{"field":"p2"}}},
{"data":{"values":[{"i":104,"p":6724.1,"t":"2026.02.09 22:00"}]},"mark":{"type":"text","align":"center","baseline":"middle","color":"white","font":"Liberation Sans","fontSize":9.5},"encoding":{"text":{"field":"t"}}}
]
}
